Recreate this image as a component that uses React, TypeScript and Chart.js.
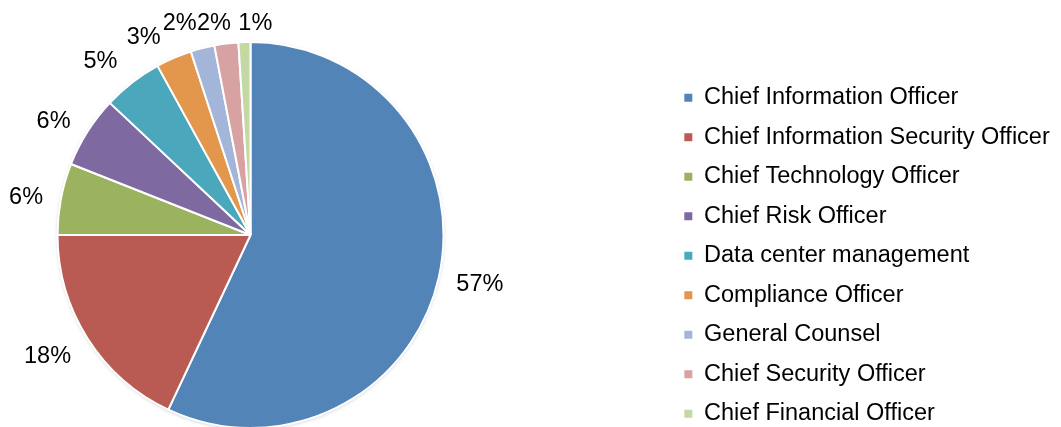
import React, { useEffect, useRef } from "react";
import { Chart, registerables } from "chart.js";

Chart.register(...registerables);

const categories = [
  "Chief Information Officer",
  "Chief Information Security Officer",
  "Chief Technology Officer",
  "Chief Risk Officer",
  "Data center management",
  "Compliance Officer",
  "General Counsel",
  "Chief Security Officer",
  "Chief Financial Officer",
];

const shares = [57, 18, 6, 6, 5, 3, 2, 2, 1];

const sliceColors = [
  "#5384B8",
  "#B95B53",
  "#9BB35F",
  "#7F69A1",
  "#4BA7BC",
  "#E2974D",
  "#A3B6D9",
  "#D9A2A2",
  "#C4D8A4",
];

// small layout nudges (px) for the outside percentage labels, like the source's collision avoidance
const labelNudges: [number, number][] = [
  [0, 0],
  [-4.5, 2],
  [0, 2],
  [-4, 2],
  [-10, -2],
  [-16, 2],
  [-14, 0],
  [-8, 5],
  [12, 6],
];

const FONT = "'Liberation Sans', Arial, Helvetica, sans-serif";
const FONT_SIZE = 23.5;
const PIE_CENTER_X = 242.5;

export default function App() {
  const ref = useRef<HTMLCanvasElement>(null);

  useEffect(() => {
    if (!ref.current) return;

    const pieAnchor = {
      id: "pieAnchor",
      afterLayout(chart: any) {
        const ca = chart.chartArea;
        ca.left = 2 * PIE_CENTER_X - ca.right;
        ca.width = ca.right - ca.left;
      },
    };

    const shadowPlugin = {
      id: "pieShadow",
      beforeDatasetsDraw(chart: any) {
        const arc = chart.getDatasetMeta(0).data[0];
        if (!arc) return;
        const { x, y, outerRadius } = arc.getProps(["x", "y", "outerRadius"], true);
        const ctx = chart.ctx;
        ctx.save();
        ctx.shadowColor = "rgba(0,0,0,0.35)";
        ctx.shadowBlur = 4;
        ctx.shadowOffsetY = 1;
        ctx.beginPath();
        ctx.arc(x, y, outerRadius - 1, 0, Math.PI * 2);
        ctx.fillStyle = "#ffffff";
        ctx.fill();
        ctx.restore();
      },
    };

    const labelPlugin = {
      id: "pctLabels",
      afterDatasetsDraw(chart: any) {
        const ctx = chart.ctx;
        const meta = chart.getDatasetMeta(0);
        ctx.save();
        ctx.font = `23.5px ${FONT}`;
        ctx.fillStyle = "#000000";
        ctx.textAlign = "center";
        ctx.textBaseline = "middle";
        meta.data.forEach((el: any, i: number) => {
          const { x, y, startAngle, endAngle, outerRadius } = el.getProps(
            ["x", "y", "startAngle", "endAngle", "outerRadius"],
            true
          );
          const mid = (startAngle + endAngle) / 2;
          const dx = Math.cos(mid);
          const dy = Math.sin(mid);
          const text = `${shares[i]}%`;
          const w = ctx.measureText(text).width;
          const h = 17;
          const r = outerRadius - 1.5 + 20;
          const n = labelNudges[i] || [0, 0];
          const cx = x + dx * r + (dx * w) / 2 + n[0];
          const cy = y + dy * r + (dy * h) / 2 + n[1] + 2;
          ctx.fillText(text, cx, cy);
        });
        ctx.restore();
      },
    };

    const chart = new Chart(ref.current, {
      type: "pie",
      data: {
        labels: categories,
        datasets: [
          {
            data: shares,
            backgroundColor: sliceColors,
            borderColor: "#ffffff",
            borderWidth: 2,
            radius: 193,
          } as any,
        ],
      },
      options: {
        responsive: false,
        animation: false,
        layout: { padding: { left: 0, right: 7.25, top: 20.5, bottom: 6.5 } },
        plugins: {
          legend: {
            position: "right",
            align: "end",
            labels: {
              boxWidth: 8,
              boxHeight: 8,
              padding: 16,
              color: "#000000",
              font: { family: FONT, size: FONT_SIZE },
              generateLabels: () =>
                categories.map((c, i) => ({
                  text: c,
                  fillStyle: sliceColors[i],
                  strokeStyle: sliceColors[i],
                  lineWidth: 0,
                  hidden: false,
                  index: i,
                  fontColor: "#000000",
                })),
            },
          },
          tooltip: { enabled: false },
        },
      },
      plugins: [pieAnchor, shadowPlugin, labelPlugin],
    });

    return () => chart.destroy();
  }, []);

  return (
    <div style={{ width: 1045, height: 419, overflow: "hidden" }}>
      <canvas ref={ref} width={1059} height={440} style={{ display: "block" }} />
    </div>
  );
}
